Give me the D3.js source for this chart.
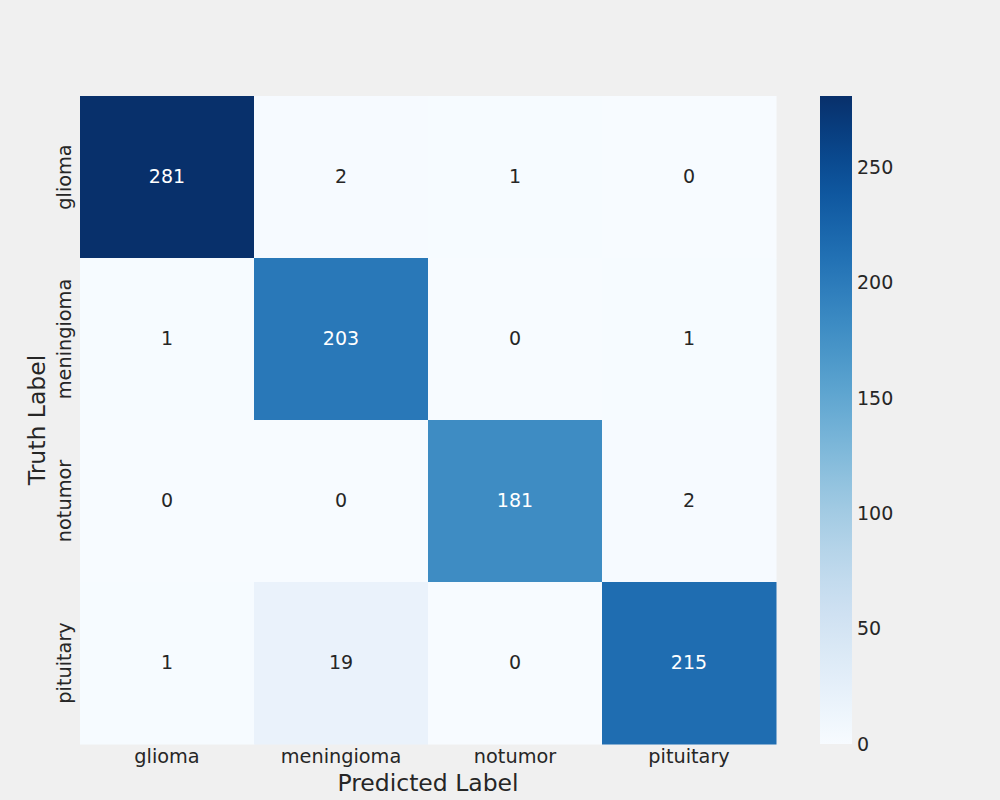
<!DOCTYPE html>
<html>
<head>
<meta charset="utf-8">
<script src="https://cdn.jsdelivr.net/npm/d3@7"></script>
<style>
  body { margin: 0; background: #f0f0f0; }
  text { font-family: "DejaVu Sans", sans-serif; }
</style>
</head>
<body>
<div id="chart"></div>
<script>
// data
var labels = ["glioma", "meningioma", "notumor", "pituitary"];
var matrix = [
  [281, 2, 1, 0],
  [1, 203, 0, 1],
  [0, 0, 181, 2],
  [1, 19, 0, 215]
];
var cbTicks = [0, 50, 100, 150, 200, 250];

var svgWidth = 1000, svgHeight = 800;
var margin = { top: 96, left: 80 };
var width = 696, height = 648;

var svg = d3.select("#chart")
  .append("svg")
  .attr("width", svgWidth)
  .attr("height", svgHeight);

svg.append("rect")
  .attr("width", svgWidth).attr("height", svgHeight)
  .attr("fill", "#f0f0f0");

var chartGroup = svg.append("g")
  .attr("transform", `translate(${margin.left}, ${margin.top})`);

var xScale = d3.scaleBand().domain(labels).range([0, width]);
var yScale = d3.scaleBand().domain(labels).range([0, height]);

var vmax = d3.max(matrix, r => d3.max(r));
var color = d3.scaleSequential(d3.interpolateBlues).domain([0, vmax]);

var cells = [];
matrix.forEach(function(row, i) {
  row.forEach(function(v, j) {
    cells.push({ truth: labels[i], pred: labels[j], value: v });
  });
});

chartGroup.selectAll("rect.cell")
  .data(cells)
  .enter()
  .append("rect")
  .attr("class", "cell")
  .attr("x", d => xScale(d.pred))
  .attr("y", d => yScale(d.truth))
  .attr("width", xScale.bandwidth() + 0.5)
  .attr("height", yScale.bandwidth() + 0.5)
  .attr("fill", d => color(d.value));

chartGroup.selectAll("text.annot")
  .data(cells)
  .enter()
  .append("text")
  .attr("class", "annot")
  .attr("x", d => xScale(d.pred) + xScale.bandwidth() / 2)
  .attr("y", d => yScale(d.truth) + yScale.bandwidth() / 2)
  .attr("dy", "0.33em")
  .attr("text-anchor", "middle")
  .style("font-size", "19px")
  .attr("fill", d => d.value > vmax * 0.5 ? "#ffffff" : "#262626")
  .text(d => d.value);

// axes
var bottomAxis = d3.axisBottom(xScale).tickSize(0).tickPadding(5);
var leftAxis = d3.axisLeft(yScale).tickSize(0).tickPadding(9);

var gx = chartGroup.append("g")
  .attr("transform", `translate(0, ${height})`)
  .call(bottomAxis);
gx.select(".domain").remove();
gx.selectAll("text").style("font-size", "19.3px").attr("fill", "#262626")
  .style("font-family", "DejaVu Sans");

var gy = chartGroup.append("g").call(leftAxis);
gy.select(".domain").remove();
gy.selectAll("text")
  .style("font-size", "19.3px").attr("fill", "#262626")
  .style("font-family", "DejaVu Sans")
  .attr("text-anchor", "middle")
  .attr("transform", "rotate(-90)")
  .attr("x", 0).attr("dx", 0)
  .attr("y", -9).attr("dy", 0);

chartGroup.append("text")
  .attr("x", width / 2)
  .attr("y", height + 47)
  .attr("text-anchor", "middle")
  .style("font-size", "23.5px")
  .attr("fill", "#262626")
  .text("Predicted Label");

chartGroup.append("text")
  .attr("transform", `translate(${-35}, ${height / 2}) rotate(-90)`)
  .attr("text-anchor", "middle")
  .style("font-size", "23.5px")
  .attr("fill", "#262626")
  .text("Truth Label");

// colorbar
var cbX = 820, cbW = 32;
var cbScale = d3.scaleLinear().domain([0, vmax]).range([margin.top + height, margin.top]);

var defs = svg.append("defs");
var grad = defs.append("linearGradient")
  .attr("id", "cbgrad")
  .attr("x1", "0%").attr("y1", "100%")
  .attr("x2", "0%").attr("y2", "0%");
d3.range(0, 1.0001, 0.05).forEach(function(t) {
  grad.append("stop")
    .attr("offset", (t * 100) + "%")
    .attr("stop-color", d3.interpolateBlues(t));
});

svg.append("rect")
  .attr("x", cbX).attr("y", margin.top)
  .attr("width", cbW).attr("height", height)
  .attr("fill", "url(#cbgrad)");

var cbAxis = d3.axisRight(cbScale).tickValues(cbTicks).tickSize(0).tickPadding(5);
var gcb = svg.append("g")
  .attr("transform", `translate(${cbX + cbW}, 0)`)
  .call(cbAxis);
gcb.select(".domain").remove();
gcb.selectAll("text").style("font-size", "19px").attr("fill", "#262626")
  .style("font-family", "DejaVu Sans");
</script>
</body>
</html>
